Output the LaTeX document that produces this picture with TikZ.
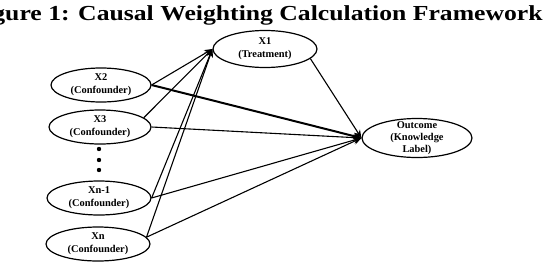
\documentclass[tikz,border=0pt]{standalone}
\usepackage{fontspec}
\setmainfont{Liberation Serif}
\newfontfamily\titlefont[FakeStretch=1.2]{Liberation Serif}
\usepackage{tikz}
\usetikzlibrary{arrows.meta,shapes.geometric,positioning}
\tikzset{
  varnode/.style={
    ellipse, draw=black, line width=0.6pt, inner sep=0pt,
    minimum width=51pt, minimum height=17pt, align=center,
    font=\fontsize{5.2}{6.4}\selectfont\bfseries
  },
  vdot/.style={circle, fill=black, inner sep=0pt, minimum size=2.2pt},
  causalArrow/.style={-{Stealth[length=4pt,width=3.4pt]}, line width=0.55pt, color=black}
}

\begin{document}
\begin{tikzpicture}[x=0.5pt, y=-0.5pt]
        \useasboundingbox (0,0) rectangle (546,268);
        \node[anchor=base east, inner sep=0pt,
              font=\titlefont\bfseries\fontsize{10.7}{12}\selectfont] (title) at (543,20)
          {Figure 1: Causal Weighting Calculation Framework};
        % treatment and outcome
        \node[varnode, minimum width=52pt, minimum height=18.5pt] (X1) at (265,49)
          {X1\\(Treatment)};
        \node[varnode, minimum width=55pt, minimum height=19.5pt, inner ysep=-3pt,
              font=\fontsize{5.2}{5.9}\selectfont\bfseries] (Outcome) at (417,138)
          {Outcome\\(Knowledge\\Label)};
        % confounders
        \node[varnode, minimum width=50pt] (X2) at (101,85) {X2\\(Confounder)};
        \node[varnode] (X3) at (100,127) {X3\\(Confounder)};
        \node[varnode, minimum width=52pt] (Xn1) at (99,198) {Xn-1\\(Confounder)};
        \node[varnode, minimum width=52pt] (Xn) at (98,244) {Xn\\(Confounder)};
        \foreach \y/\n in {149/1,160/2,170/3}
          \node[vdot] (dot\n) at (99,\y) {};
        % edges to treatment
        \draw[causalArrow] (X2.east) -- (X1.west);
        \draw[causalArrow] (X3.12) -- (X1.west);
        \draw[causalArrow] (Xn1.east) -- (X1.west);
        \draw[causalArrow] (Xn.8) -- (X1.west);
        % edges to outcome
        \draw[causalArrow, line width=1pt] (X2.east) -- (Outcome.west);
        \draw[causalArrow] (X3.east) -- (Outcome.west);
        \draw[causalArrow] (Xn1.east) -- (Outcome.west);
        \draw[causalArrow] (Xn.8) -- (Outcome.west);
        \draw[causalArrow] (X1.-12) -- (Outcome.west);
      \end{tikzpicture}
\end{document}
